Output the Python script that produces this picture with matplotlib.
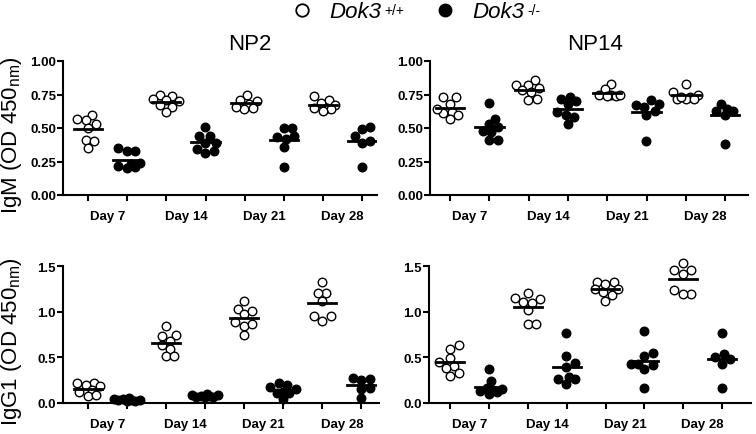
import numpy as np
import matplotlib.pyplot as plt
from matplotlib.lines import Line2D

plt.rcParams['font.family'] = ['Liberation Sans', 'DejaVu Sans']
plt.rcParams['mathtext.fontset'] = 'custom'
plt.rcParams['mathtext.rm'] = 'Liberation Sans'
plt.rcParams['mathtext.it'] = 'Liberation Sans:italic'

dias = ['Day 7', 'Day 14', 'Day 21', 'Day 28']

# IgM NP2: (WT, KO) por dia
igm_np2_wt = [[0.53, 0.57, 0.60, 0.56, 0.50, 0.41, 0.40, 0.35],
              [0.75, 0.74, 0.71, 0.70, 0.67, 0.66, 0.62, 0.72],
              [0.75, 0.71, 0.70, 0.68, 0.65, 0.64, 0.66],
              [0.74, 0.71, 0.69, 0.67, 0.65, 0.64, 0.63, 0.65]]
igm_np2_ko = [[0.33, 0.33, 0.35, 0.23, 0.24, 0.21, 0.20, 0.22],
              [0.51, 0.44, 0.44, 0.39, 0.39, 0.34, 0.31, 0.33],
              [0.50, 0.50, 0.42, 0.44, 0.36, 0.21, 0.43],
              [0.51, 0.49, 0.40, 0.39, 0.44, 0.21]]

# IgM NP14
igm_np14_wt = [[0.73, 0.73, 0.68, 0.62, 0.60, 0.57, 0.61, 0.64],
               [0.86, 0.82, 0.82, 0.78, 0.77, 0.71, 0.72, 0.80],
               [0.83, 0.79, 0.75, 0.75, 0.74, 0.74, 0.75],
               [0.83, 0.77, 0.75, 0.73, 0.72, 0.72, 0.72, 0.73]]
igm_np14_ko = [[0.69, 0.57, 0.51, 0.53, 0.48, 0.41, 0.41, 0.47],
               [0.73, 0.72, 0.68, 0.70, 0.62, 0.58, 0.53, 0.60],
               [0.71, 0.67, 0.63, 0.60, 0.40, 0.66, 0.68],
               [0.68, 0.64, 0.63, 0.63, 0.60, 0.38]]

# IgG1 NP2
igg1_np2_wt = [[0.22, 0.20, 0.22, 0.19, 0.14, 0.12, 0.08, 0.09],
               [0.84, 0.73, 0.74, 0.68, 0.64, 0.59, 0.51, 0.51],
               [1.12, 1.03, 0.97, 1.01, 0.89, 0.84, 0.75, 0.87],
               [1.33, 1.20, 1.20, 1.12, 0.95, 0.95, 0.90]]
igg1_np2_ko = [[0.05, 0.04, 0.03, 0.04, 0.02, 0.03, 0.03, 0.02],
               [0.10, 0.09, 0.08, 0.07, 0.08, 0.09, 0.07, 0.07],
               [0.22, 0.20, 0.15, 0.17, 0.12, 0.11, 0.04, 0.11],
               [0.25, 0.27, 0.26, 0.16, 0.15, 0.06]]

# IgG1 NP14
igg1_np14_wt = [[0.64, 0.59, 0.49, 0.45, 0.41, 0.38, 0.33, 0.30],
                [1.20, 1.14, 1.15, 1.11, 1.10, 1.02, 0.86, 0.86],
                [1.33, 1.32, 1.30, 1.25, 1.21, 1.18, 1.12, 1.25],
                [1.53, 1.46, 1.46, 1.41, 1.24, 1.19, 1.19]]
igg1_np14_ko = [[0.37, 0.24, 0.16, 0.14, 0.12, 0.10, 0.13, 0.15],
                [0.77, 0.44, 0.52, 0.39, 0.26, 0.26, 0.21, 0.28],
                [0.79, 0.55, 0.52, 0.43, 0.43, 0.37, 0.16, 0.42],
                [0.77, 0.54, 0.50, 0.48, 0.43, 0.16]]

yticks_igm = [0.0, 0.25, 0.5, 0.75, 1.0]
yticks_igg = [0.0, 0.5, 1.0, 1.5]


def enjambre(ax, x0, valores, diam_px, max_px=13):
    # reparte los puntos en horizontal (en pixeles), con ancho limitado
    tr = ax.transData
    px_x = tr.transform((1, 0))[0] - tr.transform((0, 0))[0]
    pys = [tr.transform((x0, v))[1] for v in valores]
    orden = np.argsort(valores)
    cands = np.arange(-max_px, max_px + 0.1, diam_px / 4)
    cands = cands[np.argsort(np.abs(cands), kind='stable')]
    colocados = []
    xs = np.zeros(len(valores))
    for i in orden:
        py = pys[i]
        mejor, mejor_d = 0.0, -1
        for c in cands:
            d = min([np.hypot(c - cx, py - cy) for cx, cy in colocados] or [1e9])
            if d >= diam_px * 0.95:
                mejor = c
                break
            if d > mejor_d:
                mejor, mejor_d = c, d
        colocados.append((mejor, py))
        xs[i] = x0 + mejor / px_x
    return xs


def panel(ax, wt, ko, ylim, yticks, yfmt, xlim):
    ax.set_xlim(*xlim)
    ax.set_ylim(*ylim)
    ax.set_yticks(yticks)
    ax.set_yticklabels([yfmt.format(t) for t in yticks])
    ax.set_xticks(range(8))
    ax.set_xticklabels([])
    ax.set_xticks([0.5, 2.5, 4.5, 6.5], minor=True)
    ax.set_xticklabels(dias, minor=True)
    ax.tick_params(axis='x', which='minor', length=0, pad=11)
    ax.tick_params(axis='both', which='major', length=4, width=1.5, direction='out')
    ax.tick_params(axis='y', pad=1)
    for lab in ax.get_xticklabels(minor=True) + ax.get_yticklabels():
        lab.set_fontweight('bold')
        lab.set_fontsize(9.5)
    for s in ['top', 'right']:
        ax.spines[s].set_visible(False)
    for s in ['left', 'bottom']:
        ax.spines[s].set_linewidth(1.5)
    diam = 8.5
    for d in range(4):
        for j, (vals, cara) in enumerate([(wt[d], 'white'), (ko[d], 'black')]):
            x0 = 2 * d + j
            xs = enjambre(ax, x0, vals, diam)
            ax.scatter(xs, vals, s=38, facecolor=cara, edgecolor='black',
                       linewidth=1.0, zorder=3, clip_on=False)
            m = np.mean(vals)
            ax.plot([x0 - 0.36, x0 + 0.36], [m, m], color='black', lw=2, zorder=4)


fig = plt.figure(figsize=(7.56, 4.35), dpi=100)
ax1 = fig.add_axes([63 / 756, 1 - 196 / 435, 314 / 756, 134 / 435])
ax2 = fig.add_axes([430 / 756, 1 - 196 / 435, 318 / 756, 134 / 435])
ax3 = fig.add_axes([63 / 756, 1 - 404 / 435, 316 / 756, 137 / 435])
ax4 = fig.add_axes([429 / 756, 1 - 404 / 435, 322 / 756, 137 / 435])

panel(ax1, igm_np2_wt, igm_np2_ko, (0, 1.0), yticks_igm, '{:.2f}', (-0.64, 7.38))
panel(ax2, igm_np14_wt, igm_np14_ko, (0, 1.0), yticks_igm, '{:.2f}', (-0.51, 7.58))
panel(ax3, igg1_np2_wt, igg1_np2_ko, (0, 1.5), yticks_igg, '{:.1f}', (-0.64, 7.45))
panel(ax4, igg1_np14_wt, igg1_np14_ko, (0, 1.5), yticks_igg, '{:.1f}', (-0.55, 7.75))

fig.text(250 / 756, 1 - 45 / 435, 'NP2', fontsize=16, ha='center', va='center')
fig.text(595 / 756, 1 - 45 / 435, 'NP14', fontsize=16, ha='center', va='center')

fig.text(12 / 756, 1 - 135 / 435, r'IgM (OD 450$_{\mathrm{nm}}$)', fontsize=16,
         rotation=90, ha='center', va='center')
fig.text(12 / 756, 1 - 342 / 435, r'IgG1 (OD 450$_{\mathrm{nm}}$)', fontsize=16,
         rotation=90, ha='center', va='center')

handles = [Line2D([], [], ls='none', marker='o', ms=9, mfc='white', mec='black', mew=1.3),
           Line2D([], [], ls='none', marker='o', ms=9, mfc='black', mec='black')]
leg = fig.legend(handles, ['Dok3', 'Dok3'], loc='center left',
                 bbox_to_anchor=(280 / 756, 1 - 13 / 435), ncol=2, frameon=False,
                 prop={'size': 16, 'style': 'italic'}, handletextpad=0.7,
                 columnspacing=2.4, borderpad=0, handlelength=1.0)

# superindices del genotipo justo detras de cada etiqueta
fig.canvas.draw()
rend = fig.canvas.get_renderer()
inv = fig.transFigure.inverted()
for txt, sup in zip(leg.get_texts(), ['+/+', '-/-']):
    bb = txt.get_window_extent(rend)
    x, y = inv.transform((bb.x1 + 3, bb.y1 - 2))
    fig.text(x, y, sup, fontsize=10, ha='left', va='top')

fig.savefig('out.png', dpi=100)
